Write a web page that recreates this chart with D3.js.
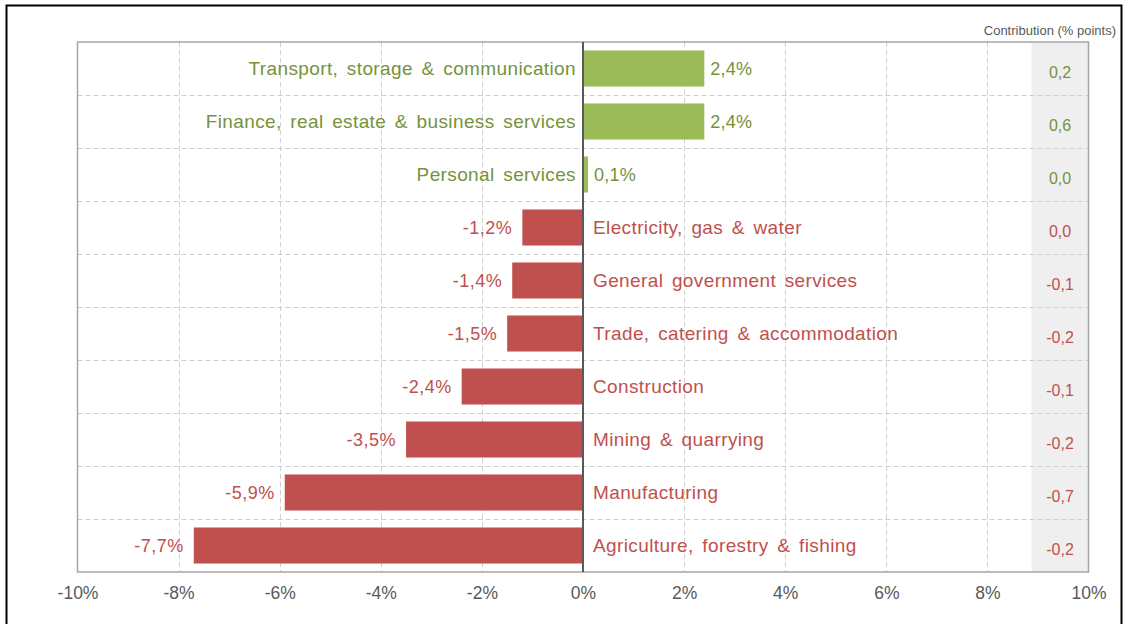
<!DOCTYPE html>
<html>
<head>
<meta charset="utf-8">
<script src="https://cdn.jsdelivr.net/npm/d3@7"></script>
<style>
  html, body { margin: 0; padding: 0; background: #fff; }
  svg { display: block; font-family: "Liberation Sans", Arial, sans-serif; }
</style>
</head>
<body>
<svg id="chart" width="1127" height="624"></svg>
<script>
// Sector growth (%) and contribution to growth (% points)
const sectors = [
  "Transport, storage & communication",
  "Finance, real estate & business services",
  "Personal services",
  "Electricity, gas & water",
  "General government services",
  "Trade, catering & accommodation",
  "Construction",
  "Mining & quarrying",
  "Manufacturing",
  "Agriculture, forestry & fishing"
];
const growth = [2.4, 2.4, 0.1, -1.2, -1.4, -1.5, -2.4, -3.5, -5.9, -7.7];
const contribution = ["0,2", "0,6", "0,0", "0,0", "-0,1", "-0,2", "-0,1", "-0,2", "-0,7", "-0,2"];
const xTicks = [-10, -8, -6, -4, -2, 0, 2, 4, 6, 8, 10];
const contributionTitle = "Contribution (% points)";

const svg = d3.select("#chart");
const W = 1127, H = 624;

const plot = { left: 77.5, right: 1088.5, top: 42, bottom: 572 };

const x = d3.scaleLinear().domain([-10, 10]).range([plot.left, plot.right]);
const y = d3.scaleBand().domain(sectors).range([plot.top, plot.bottom]).paddingInner(0.32).paddingOuter(0.16);
const rowStep = (plot.bottom - plot.top) / sectors.length;

const green = "#9bbb59", greenText = "#76923c";
const red = "#c0504d", redText = "#c0504d";
// decimal comma, plain hyphen for negatives
const fmt = v => (v < 0 ? "-" : "") + Math.abs(v).toFixed(1).replace(".", ",") + "%";

// outer frame
svg.append("path")
  .attr("d", `M6.5,${H} V5.5 H1121.5 V${H}`)
  .attr("fill", "none").attr("stroke", "#000").attr("stroke-width", 2);

// contribution band
svg.append("rect")
  .attr("x", 1031.5).attr("y", plot.top)
  .attr("width", plot.right - 1031.5).attr("height", plot.bottom - plot.top)
  .attr("fill", "#efefef");

// vertical grid
svg.append("g").selectAll("line")
  .data(xTicks.filter(t => t !== -10 && t !== 10 && t !== 0))
  .join("line")
  .attr("x1", d => Math.round(x(d)) + 0.5).attr("x2", d => Math.round(x(d)) + 0.5)
  .attr("y1", plot.top).attr("y2", plot.bottom)
  .attr("stroke", "#cfcfcf").attr("stroke-width", 1).attr("stroke-dasharray", "5,3");

// horizontal grid between rows
svg.append("g").selectAll("line")
  .data(d3.range(1, sectors.length))
  .join("line")
  .attr("x1", plot.left).attr("x2", plot.right)
  .attr("y1", i => Math.round(plot.top + i * rowStep) + 0.5)
  .attr("y2", i => Math.round(plot.top + i * rowStep) + 0.5)
  .attr("stroke", "#cfcfcf").attr("stroke-width", 1).attr("stroke-dasharray", "5,3");

// plot border
svg.append("rect")
  .attr("x", plot.left).attr("y", plot.top)
  .attr("width", plot.right - plot.left).attr("height", plot.bottom - plot.top)
  .attr("fill", "none").attr("stroke", "#a6a6a6").attr("stroke-width", 1.5);

// bars
svg.append("g").selectAll("rect")
  .data(sectors)
  .join("rect")
  .attr("x", (d, i) => x(Math.min(0, growth[i])))
  .attr("y", d => y(d))
  .attr("width", (d, i) => Math.abs(x(growth[i]) - x(0)))
  .attr("height", y.bandwidth())
  .attr("fill", (d, i) => growth[i] >= 0 ? green : red);

// zero line
svg.append("line")
  .attr("x1", x(0)).attr("x2", x(0))
  .attr("y1", plot.top).attr("y2", plot.bottom)
  .attr("stroke", "#595959").attr("stroke-width", 2);

const rowMid = d => y(d) + y.bandwidth() / 2;

// sector names, on the opposite side of the bar
svg.append("g").selectAll("text")
  .data(sectors)
  .join("text")
  .attr("x", (d, i) => growth[i] >= 0 ? x(0) - 7 : x(0) + 10)
  .attr("y", rowMid)
  .attr("dy", "0.35em")
  .attr("text-anchor", (d, i) => growth[i] >= 0 ? "end" : "start")
  .attr("font-size", 19)
  .attr("letter-spacing", 0.38)
  .attr("word-spacing", 3)
  .attr("fill", (d, i) => growth[i] >= 0 ? greenText : redText)
  .text(d => d);

// value labels at the bar ends
svg.append("g").selectAll("text")
  .data(sectors)
  .join("text")
  .attr("x", (d, i) => growth[i] >= 0 ? x(growth[i]) + 6 : x(growth[i]) - 10)
  .attr("y", rowMid)
  .attr("dy", "0.35em")
  .attr("text-anchor", (d, i) => growth[i] >= 0 ? "start" : "end")
  .attr("font-size", 18)
  .attr("letter-spacing", (d, i) => growth[i] >= 0 ? 0.2 : 0.5)
  .attr("fill", (d, i) => growth[i] >= 0 ? greenText : redText)
  .text((d, i) => fmt(growth[i]));

// contribution column
svg.append("g").selectAll("text")
  .data(sectors)
  .join("text")
  .attr("x", 1060)
  .attr("y", d => plot.top + sectors.indexOf(d) * rowStep + rowStep / 2 + 4)
  .attr("dy", "0.35em")
  .attr("text-anchor", "middle")
  .attr("font-size", 16)
  .attr("fill", (d, i) => growth[i] >= 0 ? greenText : redText)
  .text((d, i) => contribution[i]);

svg.append("text")
  .attr("x", 1116).attr("y", 35)
  .attr("text-anchor", "end")
  .attr("font-size", 13)
  .attr("fill", "#595959")
  .text(contributionTitle);

// x axis
const axis = d3.axisBottom(x)
  .tickValues(xTicks)
  .tickSize(0)
  .tickPadding(15)
  .tickFormat(d => d + "%");
const gx = svg.append("g")
  .attr("transform", `translate(0,${plot.bottom})`)
  .call(axis);
gx.select(".domain").remove();
gx.selectAll("text")
  .attr("font-size", 17.5)
  .attr("font-family", "Liberation Sans, Arial, sans-serif")
  .attr("fill", "#595959");
</script>
</body>
</html>
